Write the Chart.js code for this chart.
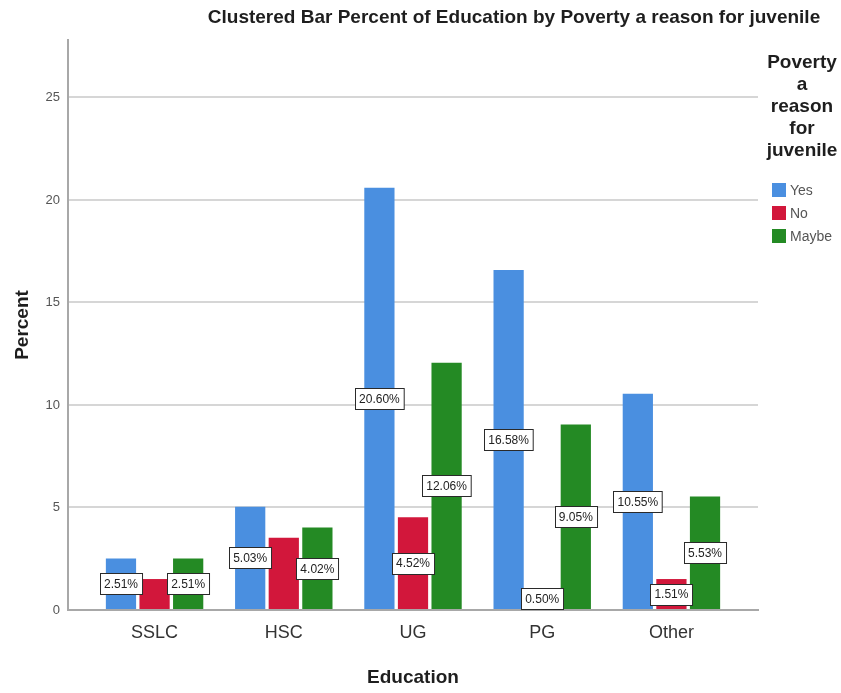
<!DOCTYPE html>
<html>
<head>
<meta charset="utf-8">
<script src="https://cdn.jsdelivr.net/npm/chart.js@4.4.1/dist/chart.umd.min.js"></script>
<style>
  html, body { margin: 0; padding: 0; background: #fff; }
  #wrap { width: 841px; height: 693px; position: relative; }
</style>
</head>
<body>
<div id="wrap"><canvas id="chart"></canvas></div>
<script>
// Clustered bar: Education by "Poverty a reason for juvenile"
const categories = ['SSLC', 'HSC', 'UG', 'PG', 'Other'];
const seriesNames = ['Yes', 'No', 'Maybe'];
const yesValues = [2.51, 5.03, 20.60, 16.58, 10.55];
const noValues = [1.51, 3.52, 4.52, 0.50, 1.51];
const maybeValues = [2.51, 4.02, 12.06, 9.05, 5.53];
// labels that are not printed in the reference (No bars of SSLC and HSC)
const noLabelShown = [false, false, true, true, true];
const yTicks = [0, 5, 10, 15, 20, 25];

const titleText = 'Clustered Bar Percent of Education by Poverty a reason for juvenile';
const legendTitle = ['Poverty', 'a', 'reason', 'for', 'juvenile'];
const colors = ['#4a8fe0', '#d2173b', '#248a24'];

const toPoints = vals => vals.map((v, i) => ({ x: i, y: v }));

// white boxed value labels in the middle of each bar
const valueLabels = {
  id: 'valueLabels',
  afterDatasetsDraw(chart) {
    const ctx = chart.ctx;
    const bottom = chart.chartArea.bottom;
    ctx.save();
    ctx.font = '12px "Liberation Sans", Arial, sans-serif';
    ctx.textAlign = 'center';
    ctx.textBaseline = 'middle';
    chart.data.datasets.forEach((ds, di) => {
      const meta = chart.getDatasetMeta(di);
      meta.data.forEach((bar, i) => {
        if (ds.showLabel && !ds.showLabel[i]) return;
        const text = ds.data[i].y.toFixed(2) + '%';
        const w = ctx.measureText(text).width + 8;
        const h = 21;
        let cy = (bar.y + bar.base) / 2;
        cy = Math.min(cy, bottom - h / 2 - 1);
        const x0 = Math.round(bar.x - w / 2) + 0.5;
        const y0 = Math.round(cy - h / 2) + 0.5;
        ctx.fillStyle = '#ffffff';
        ctx.fillRect(x0, y0, w, h);
        ctx.strokeStyle = '#2a2a2a';
        ctx.lineWidth = 1;
        ctx.strokeRect(x0, y0, w, h);
        ctx.fillStyle = '#222';
        ctx.fillText(text, bar.x, cy + 1);
      });
    });
    ctx.restore();
  }
};

// title and legend placed like the SPSS output
const sideText = {
  id: 'sideText',
  afterDraw(chart) {
    const ctx = chart.ctx;
    ctx.save();
    ctx.fillStyle = '#1e1e1e';
    ctx.textBaseline = 'middle';
    ctx.textAlign = 'center';
    ctx.font = 'bold 19px "Liberation Sans", Arial, sans-serif';
    ctx.fillText(titleText, 514, 18);

    ctx.font = 'bold 19px "Liberation Sans", Arial, sans-serif';
    legendTitle.forEach((t, i) => ctx.fillText(t, 802, 63 + i * 22));

    ctx.textAlign = 'left';
    ctx.font = '14px "Liberation Sans", Arial, sans-serif';
    chart.data.datasets.forEach((ds, i) => {
      const cy = 190 + i * 23;
      ctx.fillStyle = ds.backgroundColor;
      ctx.fillRect(772, cy - 7, 14, 14);
      ctx.fillStyle = '#555';
      ctx.fillText(ds.label, 790, cy + 1);
    });
    ctx.restore();
  }
};

const commonBar = { categoryPercentage: 0.78, barPercentage: 0.9, borderWidth: 0 };

new Chart(document.getElementById('chart'), {
  type: 'bar',
  data: {
    datasets: [
      { label: seriesNames[0], data: toPoints(yesValues), backgroundColor: colors[0], ...commonBar },
      { label: seriesNames[1], data: toPoints(noValues), backgroundColor: colors[1], showLabel: noLabelShown, ...commonBar },
      { label: seriesNames[2], data: toPoints(maybeValues), backgroundColor: colors[2], ...commonBar },
    ],
  },
  options: {
    responsive: true,
    maintainAspectRatio: false,
    animation: false,
    layout: { padding: { left: 0, right: 83, top: 40, bottom: 0 } },
    plugins: {
      legend: { display: false },
      title: { display: false },
      tooltip: { enabled: false },
    },
    scales: {
      x: {
        type: 'linear',
        offset: false,
        min: -0.67,
        max: 4.67,
        grid: { display: false, drawTicks: false },
        border: { display: true, color: '#a8a8a8', width: 2 },
        ticks: {
          stepSize: 1,
          includeBounds: false,
          padding: 12,
          color: '#333',
          font: { family: '"Liberation Sans", Arial, sans-serif', size: 18 },
          callback: v => categories[v] ?? '',
        },
        title: {
          display: true,
          text: 'Education',
          color: '#1e1e1e',
          padding: { top: 0, bottom: 4 },
          font: { family: '"Liberation Sans", Arial, sans-serif', size: 19, weight: 'bold' },
        },
        afterFit: s => { s.height = 83; },
      },
      y: {
        min: 0,
        max: 27.8,
        afterBuildTicks: s => { s.ticks = yTicks.map(v => ({ value: v })); },
        grid: {
          color: ctx => ctx.tick.value === 0 ? 'rgba(0,0,0,0)' : '#d6d6d6',
          lineWidth: 2,
          drawTicks: false,
        },
        border: { display: true, color: '#a8a8a8', width: 2 },
        ticks: {
          padding: 8,
          color: '#555',
          font: { family: '"Liberation Sans", Arial, sans-serif', size: 13 },
        },
        title: {
          display: true,
          text: 'Percent',
          color: '#1e1e1e',
          padding: { top: 11, bottom: 0 },
          font: { family: '"Liberation Sans", Arial, sans-serif', size: 19, weight: 'bold' },
        },
        afterFit: s => { s.width = 68; },
      },
    },
  },
  plugins: [valueLabels, sideText],
});
</script>
</body>
</html>
